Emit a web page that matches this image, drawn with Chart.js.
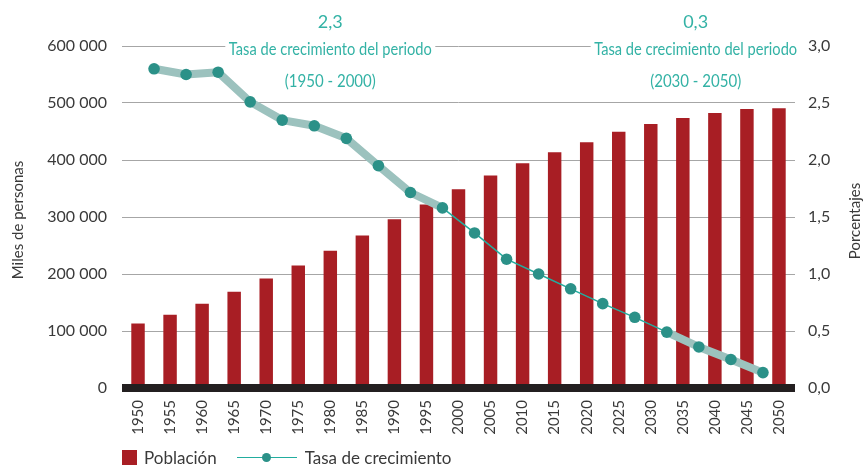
<!DOCTYPE html>
<html lang="es">
<head>
<meta charset="utf-8">
<script src="https://cdn.jsdelivr.net/npm/chart.js@4"></script>
<style>
  html, body { margin: 0; padding: 0; background: #fff; }
  #wrap { position: relative; width: 864px; height: 466px; }
  #legend { position: absolute; left: 122px; top: 449px; height: 16px; display: flex; align-items: center;
            font: 17px Lato, sans-serif; color: #3a3a3a; }
  .sq { width: 15px; height: 15px; background: #a81e24; margin-right: 7px; }
  .ln { position: relative; width: 60px; height: 9px; margin: 0 8px 0 20px; }
  .ln:before { content: ""; position: absolute; left: 0; right: 0; top: 4px; height: 1.5px; background: #22ad9f; }
  .ln:after { content: ""; position: absolute; left: 25px; top: 0; width: 9px; height: 9px; border-radius: 50%; background: #2b9188; }
</style>
</head>
<body>
<div id="wrap">
  <canvas id="chart" width="864" height="466"></canvas>
  <div id="legend">
    <span class="sq"></span><span>Población</span>
    <span class="ln"></span><span>Tasa de crecimiento</span>
  </div>
</div>
<script>
// población en miles de personas
const years = ['1950','1955','1960','1965','1970','1975','1980','1985','1990','1995','2000',
               '2005','2010','2015','2020','2025','2030','2035','2040','2045','2050'];
const poblacion = [113000, 128500, 148000, 169000, 192000, 215000, 241000, 267500, 296000, 322000, 348500,
                   373000, 394500, 413500, 431000, 449500, 463000, 473500, 482500, 489500, 491000];

// tasa de crecimiento por quinquenio (porcentaje)
const periodos = ['1950-1955','1955-1960','1960-1965','1965-1970','1970-1975','1975-1980','1980-1985',
                  '1985-1990','1990-1995','1995-2000','2000-2005','2005-2010','2010-2015','2015-2020',
                  '2020-2025','2025-2030','2030-2035','2035-2040','2040-2045','2045-2050'];
const tasa = [2.80, 2.75, 2.77, 2.51, 2.35, 2.30, 2.19, 1.95, 1.715, 1.58,
              1.36, 1.13, 1.00, 0.87, 0.74, 0.62, 0.49, 0.36, 0.25, 0.135];

// tramos resaltados (índices de periodos)
const tramos = [[0, 9], [16, 19]];
const tasasPeriodo = ['2,3', '0,3'];
const rangosPeriodo = ['(1950 - 2000)', '(2030 - 2050)'];
const centrosNota = [6, 17.4];

const teal = '#33b2a5';
const textColor = '#3a3a3a';

const enTramo = (a, b) => tramos.some(([s, e]) => a >= s && b <= e);
const lineData = periodos.map((p, i) => ({ x: i + 0.5, y: tasa[i] }));

const fmtMiles = v => String(v).replace(/\B(?=(\d{3})+(?!\d))/g, ' ');

const extras = {
  id: 'extras',
  afterDatasetsDraw(chart) {
    const { ctx, chartArea: a } = chart;
    ctx.save();
    ctx.fillStyle = '#231f20';
    ctx.fillRect(a.left, a.bottom - 4, a.right - a.left, 8);
    ctx.restore();
  },
  afterDraw(chart) {
    const { ctx, chartArea: a } = chart;
    const xl = chart.scales.xl;
    ctx.save();
    ctx.textAlign = 'center';
    ctx.textBaseline = 'middle';
    centrosNota.forEach((c, i) => {
      const cx = xl.getPixelForValue(c);
      ctx.fillStyle = '#fff';
      ctx.fillRect(cx - 105, 38, 210, 20);
      ctx.fillStyle = teal;
      ctx.font = '18px Lato';
      ctx.fillText(tasasPeriodo[i], cx, 22);
      ctx.font = '17px Lato';
      ctx.fillText('Tasa de crecimiento del periodo', cx, 50, 203);
      ctx.fillText(rangosPeriodo[i], cx, 82, 91);
    });

    ctx.fillStyle = textColor;
    ctx.font = '15px Lato';
    const cy = (a.top + a.bottom) / 2;
    ctx.save();
    ctx.translate(18, cy + 3);
    ctx.rotate(-Math.PI / 2);
    ctx.fillText('Miles de personas', 0, 0);
    ctx.restore();
    ctx.save();
    ctx.translate(855, cy + 4);
    ctx.rotate(-Math.PI / 2);
    ctx.fillText('Porcentajes', 0, 0);
    ctx.restore();
    ctx.restore();
  }
};

new Chart(document.getElementById('chart'), {
  type: 'bar',
  data: {
    labels: years,
    datasets: [
      {
        type: 'line',
        label: 'Tasa de crecimiento',
        data: lineData,
        xAxisID: 'xl',
        yAxisID: 'y1',
        borderColor: '#22ad9f',
        borderWidth: 1.5,
        segment: {
          borderColor: c => enTramo(c.p0DataIndex, c.p1DataIndex) ? 'rgba(0,0,0,0)' : '#22ad9f'
        },
        pointRadius: 5.8,
        pointBackgroundColor: '#2b9188',
        pointBorderWidth: 0,
        order: 0
      },
      {
        type: 'line',
        label: 'tramos',
        data: lineData,
        xAxisID: 'xl',
        yAxisID: 'y1',
        borderColor: '#9cc2be',
        borderWidth: 8,
        borderCapStyle: 'round',
        borderJoinStyle: 'round',
        segment: {
          borderColor: c => enTramo(c.p0DataIndex, c.p1DataIndex) ? '#9cc2be' : 'rgba(0,0,0,0)'
        },
        pointRadius: 0,
        order: 1
      },
      {
        label: 'Población',
        data: poblacion,
        xAxisID: 'x',
        yAxisID: 'y',
        backgroundColor: '#a81e24',
        grouped: false,
        categoryPercentage: 1,
        barPercentage: 0.42,
        order: 2
      }
    ]
  },
  options: {
    responsive: false,
    animation: false,
    layout: { padding: { top: 46, bottom: 28, left: 0, right: 0 } },
    plugins: { legend: { display: false }, tooltip: { enabled: false } },
    scales: {
      x: {
        grid: { display: true, color: 'rgba(0,0,0,0)', drawTicks: false },
        border: { display: false },
        ticks: { color: textColor, font: { family: 'Lato', size: 15 }, minRotation: 90, maxRotation: 90, padding: 12, autoSkip: false },
        afterFit: s => { s.height = 50; }
      },
      xl: {
        type: 'linear',
        display: false,
        offset: false,
        min: -0.5,
        max: 20.5
      },
      y: {
        position: 'left',
        min: 0, max: 600000,
        ticks: { stepSize: 100000, color: textColor, font: { family: 'Lato', size: 16 }, padding: 15, callback: v => fmtMiles(v) },
        grid: { color: '#a6a6a6', lineWidth: 1, drawTicks: false },
        border: { display: false },
        afterFit: s => { s.width = 122; }
      },
      y1: {
        position: 'right',
        min: 0, max: 3,
        ticks: { stepSize: 0.5, color: textColor, font: { family: 'Lato', size: 16 }, padding: 13, callback: v => v.toFixed(1).replace('.', ',') },
        grid: { display: false, drawTicks: false },
        border: { display: false },
        afterFit: s => { s.width = 69; }
      }
    }
  },
  plugins: [extras]
});
</script>
</body>
</html>
